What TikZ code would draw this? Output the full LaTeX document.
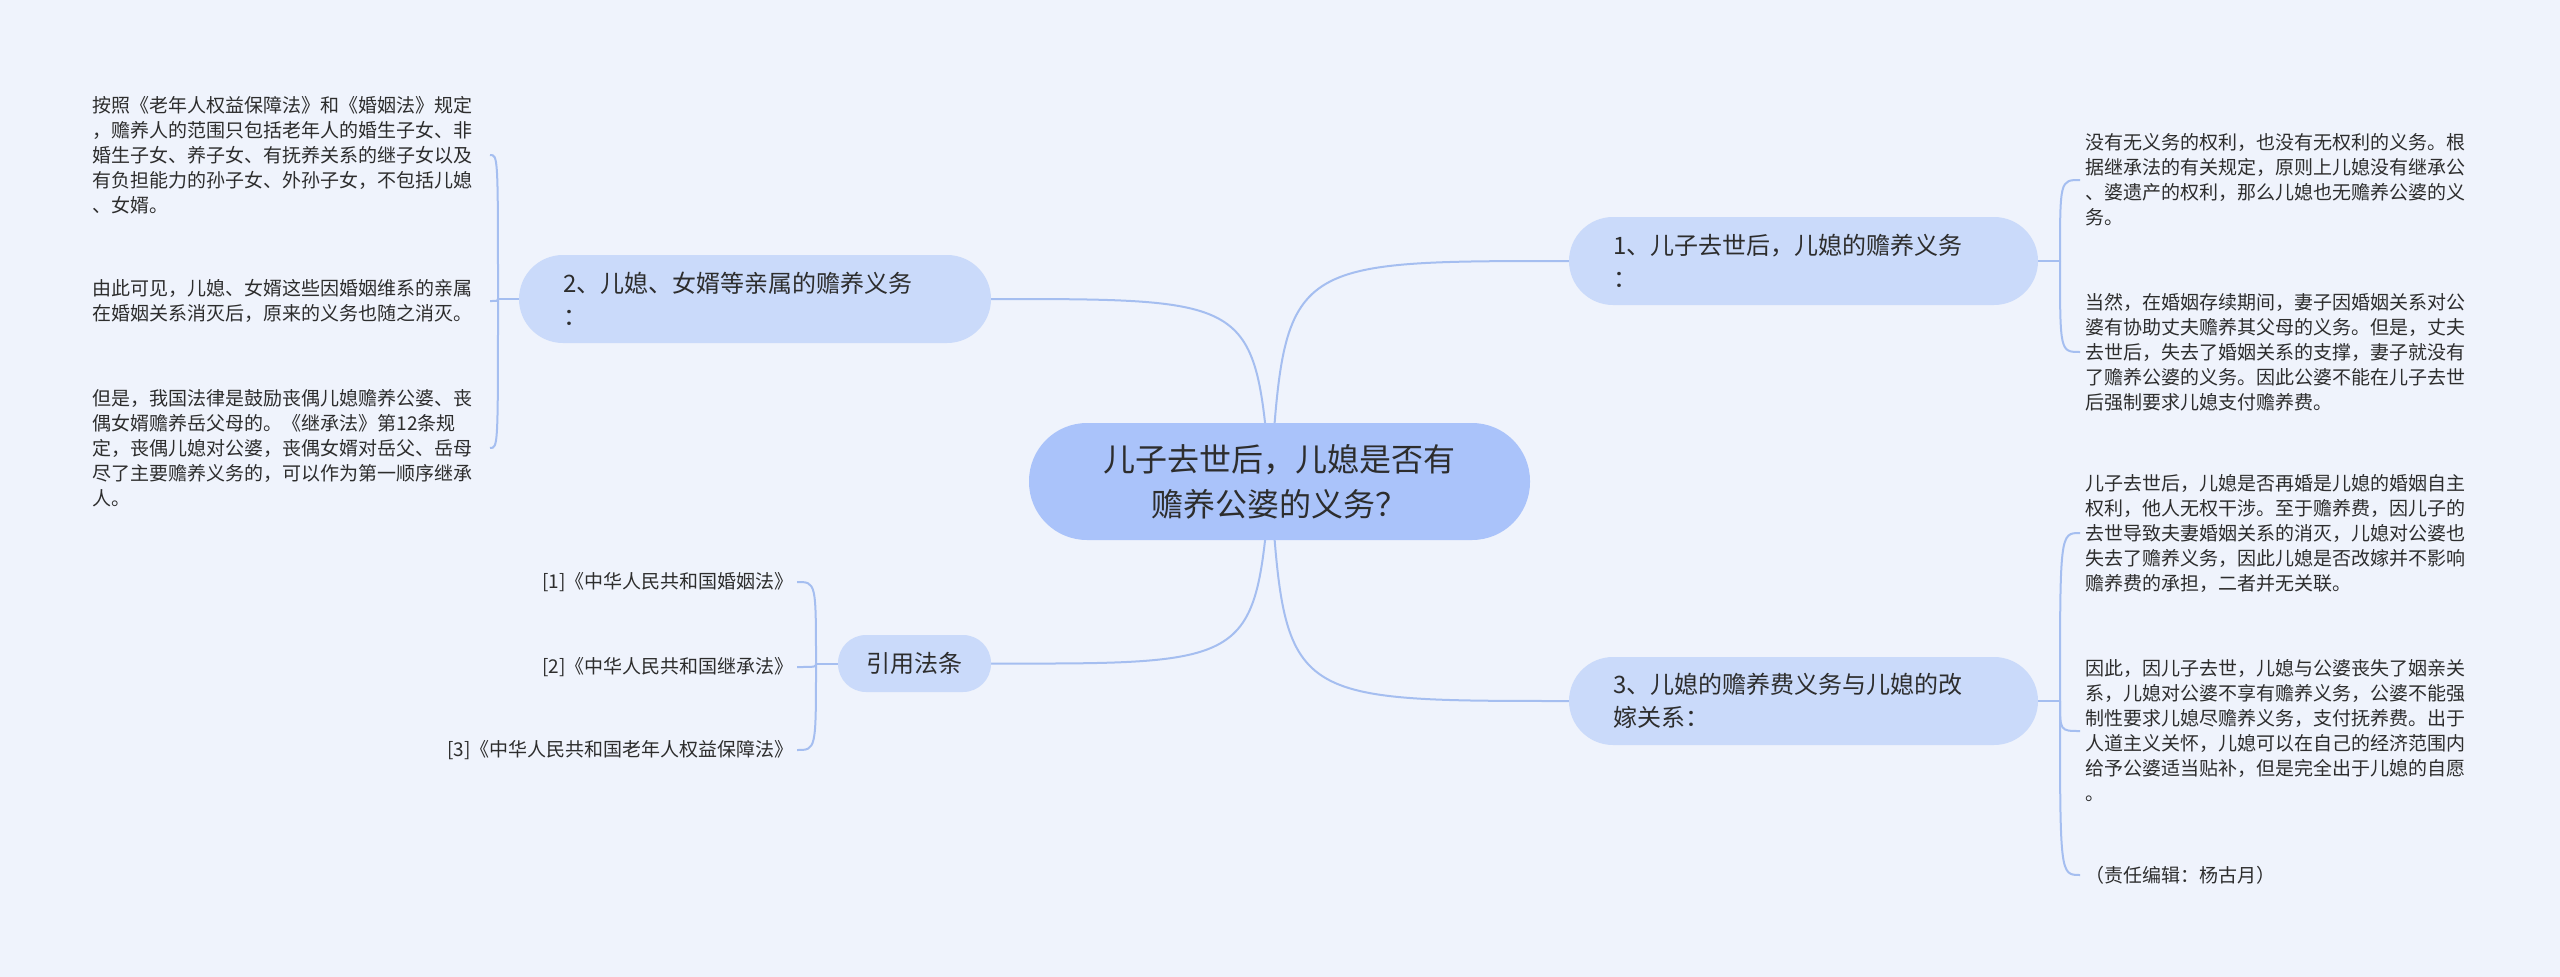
\documentclass[tikz,border=0pt]{standalone}
\usepackage{fontspec}
\setmainfont{Noto Sans CJK SC}
\definecolor{bgc}{RGB}{239,243,252}
\definecolor{rootc}{RGB}{170,195,250}
\definecolor{subc}{RGB}{202,218,250}
\definecolor{linec}{RGB}{165,190,240}
\definecolor{txtc}{RGB}{45,45,45}
\pgfdeclarelayer{bglayer}
\pgfdeclarelayer{linelayer}
\pgfsetlayers{bglayer,linelayer,main}
\begin{document}
\begin{tikzpicture}[x=1pt,y=1pt,
  rootbox/.style={rectangle, rounded corners=58pt, fill=rootc, text=txtc,
    minimum width=501pt, minimum height=117pt, align=center, inner sep=0pt,
    font=\fontsize{32pt}{45pt}\selectfont},
  subbox/.style={rectangle, rounded corners=44pt, fill=subc, text=txtc,
    minimum height=88pt, text width=381pt, inner xsep=44pt, inner ysep=0pt, align=left,
    font=\fontsize{24pt}{33pt}\selectfont},
  citebox/.style={rectangle, rounded corners=28pt, fill=subc, text=txtc,
    minimum width=153pt, minimum height=57pt, inner sep=0pt, align=center,
    font=\fontsize{24pt}{33pt}\selectfont},
  leafl/.style={anchor=east, text width=392pt, inner xsep=5pt, inner ysep=0pt, align=left,
    text=txtc, font=\fontsize{19pt}{25pt}\selectfont},
  leafr/.style={anchor=west, inner xsep=5pt, inner ysep=0pt, align=left,
    text=txtc, font=\fontsize{19pt}{25pt}\selectfont},
  citel/.style={anchor=east, inner xsep=3pt, inner ysep=0pt, align=right,
    text=txtc, font=\fontsize{19pt}{25pt}\selectfont},
  conn/.style={draw=linec, line width=2pt}]

\useasboundingbox (0,0) rectangle (2560,-977);
\begin{pgfonlayer}{bglayer}
\fill[bgc] (0,0) rectangle (2560,-977);
\end{pgfonlayer}

% main nodes
\node[rootbox] (root) at (1279.5,-481.5) {儿子去世后，儿媳是否有\\赡养公婆的义务？};
\node[subbox] (n1) at (1803.5,-261) {1、儿子去世后，儿媳的赡养义务\\：};
\node[subbox, text width=384pt] (n2) at (755,-299) {2、儿媳、女婿等亲属的赡养义务\\：};
\node[subbox] (n3) at (1803.5,-701) {3、儿媳的赡养费义务与儿媳的改\\嫁关系：};
\node[citebox] (n4) at (914.5,-663.5) {引用法条};

% left leaves
\node[leafl] (l1) at (490,-155) {按照《老年人权益保障法》和《婚姻法》规定\\，赡养人的范围只包括老年人的婚生子女、非\\婚生子女、养子女、有抚养关系的继子女以及\\有负担能力的孙子女、外孙子女，不包括儿媳\\、女婿。};
\node[leafl] (l2) at (490,-301) {由此可见，儿媳、女婿这些因婚姻维系的亲属\\在婚姻关系消灭后，原来的义务也随之消灭。};
\node[leafl] (l3) at (490,-448) {但是，我国法律是鼓励丧偶儿媳赡养公婆、丧\\偶女婿赡养岳父母的。《继承法》第12条规\\定，丧偶儿媳对公婆，丧偶女婿对岳父、岳母\\尽了主要赡养义务的，可以作为第一顺序继承\\人。};

% right leaves
\node[leafr] (r1) at (2080,-180) {没有无义务的权利，也没有无权利的义务。根\\据继承法的有关规定，原则上儿媳没有继承公\\、婆遗产的权利，那么儿媳也无赡养公婆的义\\务。};
\node[leafr] (r2) at (2080,-352) {当然，在婚姻存续期间，妻子因婚姻关系对公\\婆有协助丈夫赡养其父母的义务。但是，丈夫\\去世后，失去了婚姻关系的支撑，妻子就没有\\了赡养公婆的义务。因此公婆不能在儿子去世\\后强制要求儿媳支付赡养费。};
\node[leafr] (r3) at (2080,-533) {儿子去世后，儿媳是否再婚是儿媳的婚姻自主\\权利，他人无权干涉。至于赡养费，因儿子的\\去世导致夫妻婚姻关系的消灭，儿媳对公婆也\\失去了赡养义务，因此儿媳是否改嫁并不影响\\赡养费的承担，二者并无关联。};
\node[leafr] (r4) at (2080,-731) {因此，因儿子去世，儿媳与公婆丧失了姻亲关\\系，儿媳对公婆不享有赡养义务，公婆不能强\\制性要求儿媳尽赡养义务，支付抚养费。出于\\人道主义关怀，儿媳可以在自己的经济范围内\\给予公婆适当贴补，但是完全出于儿媳的自愿\\。};
\node[leafr] (r5) at (2080,-875) {（责任编辑：杨古月）};

% citations
\node[citel] (c1) at (797,-582) {[1]《中华人民共和国婚姻法》};
\node[citel] (c2) at (797,-667) {[2]《中华人民共和国继承法》};
\node[citel] (c3) at (797,-750) {[3]《中华人民共和国老年人权益保障法》};

\begin{pgfonlayer}{linelayer}
% root to branches
\coordinate (rs) at ([xshift=-9pt]root.center);
\draw[conn] (rs) .. controls (1285,-261) .. (n1.west);
\draw[conn] (rs) .. controls (1255,-299) .. (n2.east);
\draw[conn] (rs) .. controls (1255,-664) .. (n4.east);
\draw[conn] (rs) .. controls (1285,-701) .. (n3.west);

% branch 1 brackets
\draw[conn] (n1.east) -- (2060,-261) coordinate (k1);
\draw[conn] (k1) .. controls (k1 |- r1.west) .. (r1.west);
\draw[conn] (k1) .. controls (k1 |- r2.west) .. (r2.west);

% branch 3 brackets
\draw[conn] (n3.east) -- (2060,-701) coordinate (k3);
\draw[conn] (k3) .. controls (k3 |- r3.west) .. (r3.west);
\draw[conn] (k3) .. controls (k3 |- r4.west) .. (r4.west);
\draw[conn] (k3) .. controls (k3 |- r5.west) .. (r5.west);

% branch 2 brackets
\draw[conn] (n2.west) -- (498,-299) coordinate (k2);
\draw[conn] (k2) .. controls (k2 |- l1.east) .. (l1.east);
\draw[conn] (k2) .. controls (k2 |- l2.east) .. (l2.east);
\draw[conn] (k2) .. controls (k2 |- l3.east) .. (l3.east);

% citation brackets
\draw[conn] (n4.west) -- (816,-663.5) coordinate (k4);
\draw[conn] (k4) .. controls (k4 |- c1.east) .. (c1.east);
\draw[conn] (k4) .. controls (k4 |- c2.east) .. (c2.east);
\draw[conn] (k4) .. controls (k4 |- c3.east) .. (c3.east);
\end{pgfonlayer}
\end{tikzpicture}
\end{document}
